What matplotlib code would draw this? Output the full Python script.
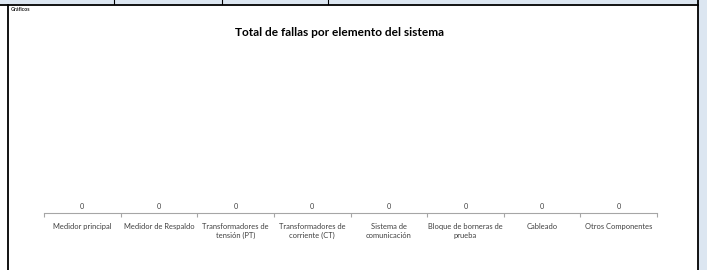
import matplotlib
matplotlib.use("Agg")
import matplotlib.pyplot as plt
from matplotlib.lines import Line2D
from matplotlib.patches import Rectangle
import numpy as np

categories = [
    "Medidor principal",
    "Medidor de Respaldo",
    "Transformadores de\ntensión (PT)",
    "Transformadores de\ncorriente (CT)",
    "Sistema de\ncomunicación",
    "Bloque de borneras de\nprueba",
    "Cableado",
    "Otros Componentes",
]
fallas = [0, 0, 0, 0, 0, 0, 0, 0]

title = "Total de fallas por elemento del sistema"
sheet_label = "Gráficos"

W, H = 707, 270
plt.rcParams["font.family"] = ["Lato", "DejaVu Sans"]

fig = plt.figure(figsize=(W / 100, H / 100), dpi=100)
fig.patch.set_facecolor("white")

# spreadsheet frame around the chart
band = "#dce6f1"
fig.add_artist(Rectangle((0, 1 - 4 / H), 1, 4 / H, transform=fig.transFigure,
                         facecolor=band, edgecolor="none"))
fig.add_artist(Rectangle((698 / W, 0), 9 / W, 1, transform=fig.transFigure,
                         facecolor=band, edgecolor="none"))
for x in [114, 222, 328]:
    fig.add_artist(Line2D([x / W, x / W], [1 - 4 / H, 1], transform=fig.transFigure,
                          color="black", lw=0.8))
fig.add_artist(Line2D([0, 698 / W], [1 - 4.5 / H, 1 - 4.5 / H], transform=fig.transFigure,
                      color="black", lw=1.3))
fig.add_artist(Line2D([7.5 / W, 7.5 / W], [0, 1 - 4.5 / H], transform=fig.transFigure,
                      color="black", lw=1.3))
fig.add_artist(Line2D([697.5 / W, 697.5 / W], [0, 1], transform=fig.transFigure,
                      color="black", lw=1.3))
fig.text(11 / W, 1 - 9.5 / H, sheet_label, fontsize=3.8, fontweight="bold",
         color="#222222", va="center", ha="left")

fig.text(339.5 / W, 1 - 33 / H, title, fontsize=8.6, fontweight="bold",
         color="black", ha="center", va="center")

# chart area
ax = fig.add_axes([44 / W, 57 / H, 613 / W, 150 / H])
x = np.arange(len(categories))
bars = ax.bar(x, fallas, width=0.6, color="#4472c4")
ax.set_xlim(-0.5, len(categories) - 0.5)
ax.set_ylim(0, 1)
for xi, v in zip(x, fallas):
    ax.annotate(str(v), (xi, v), xytext=(0, 5), textcoords="offset points",
                ha="center", va="center", fontsize=5.2, color="#404040")

for s in ["top", "left", "right"]:
    ax.spines[s].set_visible(False)
ax.spines["bottom"].set_color("#a6a6a6")
ax.spines["bottom"].set_linewidth(0.8)
ax.set_yticks([])
ax.set_xticks(x)
ax.set_xticklabels(categories, fontsize=5.4, color="#404040", linespacing=1.25)
ax.tick_params(axis="x", which="major", length=0, pad=7.5)
ax.set_xticks(np.arange(-0.5, len(categories)), minor=True)
ax.tick_params(axis="x", which="minor", length=3, color="#a6a6a6", width=0.8)
ax.patch.set_alpha(0)

fig.savefig("out.png", dpi=100)
